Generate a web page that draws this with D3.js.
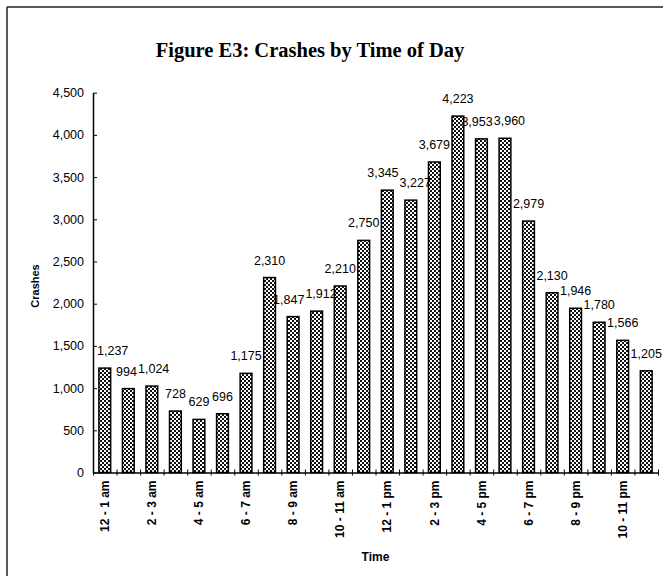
<!DOCTYPE html>
<html>
<head>
<meta charset="utf-8">
<script src="https://cdn.jsdelivr.net/npm/d3@7"></script>
<style>
  html, body { margin: 0; padding: 0; background: #fff; }
  svg { display: block; }
</style>
</head>
<body>
<svg id="chart" width="663" height="584"></svg>
<script>
const categories = ["12 - 1 am","1 - 2 am","2 - 3 am","3 - 4 am","4 - 5 am","5 - 6 am","6 - 7 am","7 - 8 am","8 - 9 am","9 - 10 am","10 - 11 am","11 - 12 pm",
                    "12 - 1 pm","1 - 2 pm","2 - 3 pm","3 - 4 pm","4 - 5 pm","5 - 6 pm","6 - 7 pm","7 - 8 pm","8 - 9 pm","9 - 10 pm","10 - 11 pm","11 - 12 am"];
const crashes = [1237, 994, 1024, 728, 629, 696, 1175, 2310, 1847, 1912, 2210, 2750,
                 3345, 3227, 3679, 4223, 3953, 3960, 2979, 2130, 1946, 1780, 1566, 1205];
const yTicks = [0, 500, 1000, 1500, 2000, 2500, 3000, 3500, 4000, 4500];
const title = "Figure E3: Crashes by Time of Day";
const xTitle = "Time";
const yTitle = "Crashes";

(function () {
const svg = d3.select("#chart");
const pl = 93, pr = 658, pt = 92.7, pb = 472.5;
const sans = "'Liberation Sans', Arial, sans-serif";
const labelSize = 12.5;

// frame
svg.append("line").attr("x1", 7).attr("y1", 7).attr("x2", 663).attr("y2", 7).attr("stroke", "#222").attr("stroke-width", 1.5);
svg.append("line").attr("x1", 7).attr("y1", 7).attr("x2", 7).attr("y2", 576).attr("stroke", "#222").attr("stroke-width", 1.5);

// pattern
const defs = svg.append("defs");
const pat = defs.append("pattern").attr("id", "chk").attr("patternUnits", "userSpaceOnUse")
  .attr("width", 4).attr("height", 4);
pat.append("rect").attr("width", 4).attr("height", 4).attr("fill", "#fff");
pat.append("rect").attr("x", 0).attr("y", 0).attr("width", 2).attr("height", 2).attr("fill", "#111");
pat.append("rect").attr("x", 2).attr("y", 2).attr("width", 2).attr("height", 2).attr("fill", "#111");

const x = d3.scaleBand().domain(categories).range([pl, pr]).paddingInner(0.5).paddingOuter(0.25);
const xl = d3.scaleLinear().domain([0, categories.length]).range([pl, pr]);
const y = d3.scaleLinear().domain([0, 4500]).range([pb, pt]);

// title
svg.append("text").attr("x", 310).attr("y", 57).attr("text-anchor", "middle")
  .attr("font-family", "'Liberation Serif', 'Times New Roman', serif").attr("font-weight", "bold")
  .attr("font-size", 20.5).text(title);

// bars
svg.append("g").selectAll("rect").data(crashes).join("rect")
  .attr("x", (d, i) => x(categories[i]))
  .attr("y", d => y(d))
  .attr("width", x.bandwidth())
  .attr("height", d => y(0) - y(d))
  .attr("fill", "url(#chk)")
  .attr("stroke", "#000").attr("stroke-width", 1.5);

// data labels
const labels = svg.append("g").selectAll("text").data(crashes).join("text")
  .attr("x", (d, i) => x(categories[i]) + x.bandwidth() / 2)
  .attr("y", d => y(d) - 13)
  .attr("text-anchor", "middle")
  .attr("font-family", sans)
  .attr("font-size", labelSize)
  .attr("fill", "#000")
  .text(d => d3.format(",")(d));

// collision handling: measure glyph boxes (cap height), split overlaps between neighbours
const nodes = labels.nodes();
const boxes = nodes.map(n => {
  const b = n.getBBox();
  const base = +n.getAttribute("y");
  return { x: b.x, w: b.width, top: base - labelSize * 0.75, bot: base + 1 };
});
// keep first label clear of the axis
if (boxes[0].x < pl + 4) { boxes[0].x = pl + 4; }
for (let i = 1; i < boxes.length; i++) {
  const a = boxes[i - 1], b = boxes[i];
  const ox = a.x + a.w + 1 - b.x;
  const oy = Math.min(a.bot, b.bot) - Math.max(a.top, b.top);
  if (ox > 0 && oy > 0) {
    a.x -= ox / 2;
    b.x += ox / 2;
  }
}
nodes.forEach((n, i) => n.setAttribute("x", boxes[i].x + boxes[i].w / 2));

// y axis
const yAxis = svg.append("g").attr("transform", `translate(${pl},0)`)
  .call(d3.axisLeft(y).tickValues(yTicks).tickFormat(d3.format(",")).tickSizeInner(4).tickSizeOuter(0).tickPadding(5));
yAxis.selectAll(".tick line").attr("x2", 4);
yAxis.select(".domain").attr("stroke-width", 1.5);
yAxis.selectAll("text").attr("font-family", sans).attr("font-size", 12.5).attr("fill", "#000");
yAxis.selectAll("line").attr("stroke", "#000");

// x axis tick marks at band boundaries
const xTickAxis = svg.append("g").attr("transform", `translate(0,${pb})`)
  .call(d3.axisBottom(xl).tickValues(d3.range(0, categories.length + 1)).tickFormat("").tickSizeInner(3).tickSizeOuter(0));
xTickAxis.selectAll(".tick line").attr("y1", -3).attr("stroke", "#000");
xTickAxis.select(".domain").attr("stroke", "#000").attr("stroke-width", 1.5);

// x labels on every other category
const xLabAxis = svg.append("g").attr("transform", `translate(0,${pb})`)
  .call(d3.axisBottom(x).tickValues(categories.filter((c, i) => i % 2 === 0)).tickSize(0).tickPadding(0));
xLabAxis.select(".domain").remove();
xLabAxis.selectAll("text")
  .attr("transform", "rotate(-90)")
  .attr("text-anchor", "end")
  .attr("x", -8).attr("y", 0).attr("dy", "0.35em")
  .attr("font-family", sans)
  .attr("font-size", 12).attr("font-weight", "bold").attr("fill", "#000");

// axis titles
svg.append("text").attr("x", (pl + pr) / 2).attr("y", 561).attr("text-anchor", "middle")
  .attr("font-family", sans).attr("font-weight", "bold").attr("font-size", 12)
  .text(xTitle);
svg.append("text").attr("transform", "translate(39,286) rotate(-90)").attr("text-anchor", "middle")
  .attr("font-family", sans).attr("font-weight", "bold").attr("font-size", 11)
  .text(yTitle);
})();
</script>
</body>
</html>
